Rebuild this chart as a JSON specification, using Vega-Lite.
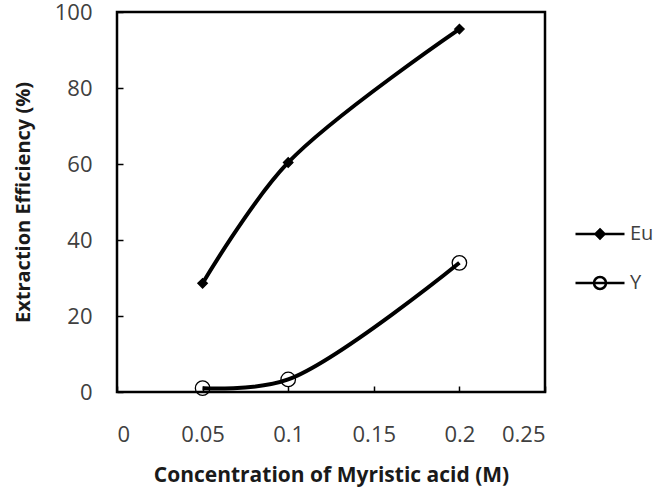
{
  "$schema": "https://vega.github.io/schema/vega-lite/v6.json",
  "width": 428,
  "height": 380,
  "autosize": "none",
  "padding": {"left": 117, "top": 12, "right": 126, "bottom": 106},
  "background": "white",
  "config": {
    "view": {"stroke": "black", "strokeWidth": 2.5},
    "font": "Open Sans",
    "axis": {
      "grid": false,
      "domain": false,
      "tickColor": "black",
      "tickWidth": 1.5,
      "tickSize": -6,
      "labelFont": "Open Sans",
      "labelFontSize": 22,
      "labelColor": "#404040",
      "titleFont": "Open Sans",
      "titleFontSize": 21,
      "titleFontWeight": "bold",
      "titleColor": "#1a1a1a"
    }
  },
  "data": {
    "values": [
      {"conc": 0.05, "eff": 28.6, "series": "Eu"},
      {"conc": 0.1, "eff": 60.4, "series": "Eu"},
      {"conc": 0.2, "eff": 95.5, "series": "Eu"},
      {"conc": 0.05, "eff": 1.0, "series": "Y"},
      {"conc": 0.1, "eff": 3.3, "series": "Y"},
      {"conc": 0.2, "eff": 34.0, "series": "Y"}
    ]
  },
  "encoding": {
    "x": {
      "field": "conc",
      "type": "quantitative",
      "scale": {"domain": [0, 0.25], "nice": false, "zero": false},
      "axis": {
        "values": [0, 0.05, 0.1, 0.15, 0.2, 0.25],
        "format": "~g",
        "labelPadding": 38,
        "title": "Concentration of Myristic acid (M)",
        "titlePadding": 19
      }
    },
    "y": {
      "field": "eff",
      "type": "quantitative",
      "scale": {"domain": [0, 100], "nice": false},
      "axis": {
        "values": [0, 20, 40, 60, 80, 100],
        "format": "d",
        "labelPadding": 31,
        "title": "Extraction Efficiency (%)",
        "titleFontSize": 20,
        "titlePadding": 21
      }
    }
  },
  "resolve": {"scale": {"shape": "independent"}, "legend": {"shape": "independent"}},
  "layer": [
    {
      "mark": {"type": "line", "interpolate": "catmull-rom", "color": "black", "strokeWidth": 4},
      "encoding": {"detail": {"field": "series", "type": "nominal"}}
    },
    {
      "mark": {"type": "point", "stroke": "black", "strokeWidth": 1.3, "opacity": 1},
      "encoding": {
        "shape": {
          "field": "series",
          "type": "nominal",
          "scale": {"domain": ["Eu", "Y"], "range": ["diamond", "circle"]},
          "legend": null
        },
        "fill": {
          "condition": {"test": "datum.series === 'Eu'", "value": "black"},
          "value": "transparent"
        },
        "size": {
          "condition": {"test": "datum.series === 'Eu'", "value": 90},
          "value": 210
        }
      }
    },
    {
      "transform": [{"filter": "false"}],
      "mark": {"type": "point", "filled": false, "color": "black", "stroke": "black", "strokeWidth": 2.5, "opacity": 1, "size": 100},
      "encoding": {
        "shape": {
          "field": "series",
          "type": "nominal",
          "scale": {
            "domain": ["Eu", "Y"],
            "range": [
              "M-4.9,0H4.9M0,-0.9L0.9,0L0,0.9L-0.9,0ZM0,-0.45L0.45,0L0,0.45L-0.45,0Z",
              "M-4.9,0H4.9M1.2,0A1.2,1.2 0 1,1 -1.2,0A1.2,1.2 0 1,1 1.2,0"
            ]
          },
          "legend": {
            "title": null,
            "orient": "none",
            "legendX": 473,
            "legendY": 212,
            "labelFont": "Open Sans",
            "labelFontSize": 20,
            "labelColor": "#404040",
            "labelOffset": 20,
            "rowPadding": 28,
            "symbolSize": 100,
            "symbolStrokeWidth": 2.5,
            "symbolStrokeColor": "black",
            "symbolOpacity": 1
          }
        }
      }
    }
  ]
}
